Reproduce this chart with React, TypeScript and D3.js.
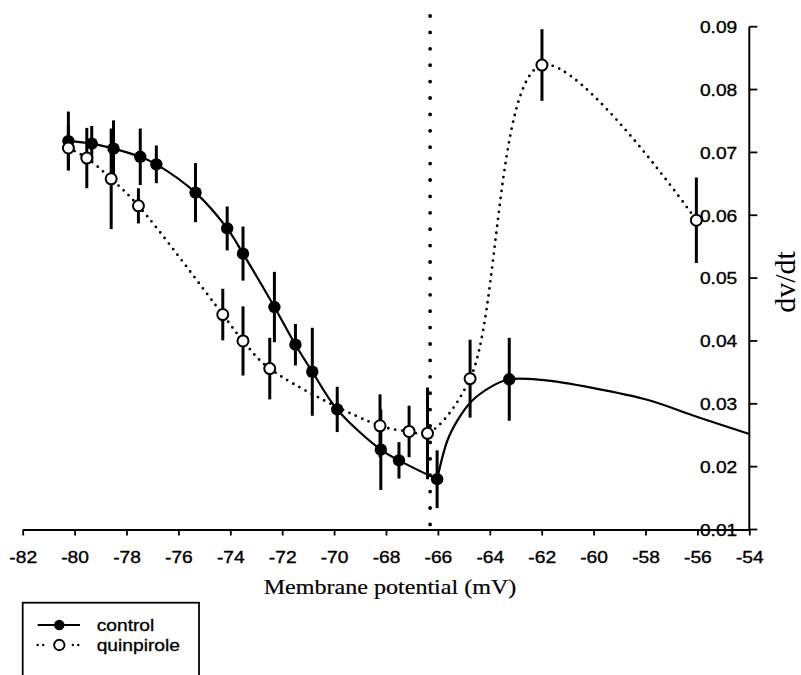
import React, { Component } from 'react';
import * as d3 from 'd3';

// axis ticks
const xTicks = [-82, -80, -78, -76, -74, -72, -70, -68, -66, -64, -62, -60, -58, -56, -54];
const yTicks = [0.01, 0.02, 0.03, 0.04, 0.05, 0.06, 0.07, 0.08, 0.09];

// control (filled circles), mean +/- error
const controlX = [-80.24, -79.34, -78.5, -77.47, -76.85, -75.34, -74.12, -73.51, -72.3, -71.49, -70.84, -69.88, -68.2, -67.5, -66.03, -63.25];
const controlY = [0.0718, 0.0714, 0.0706, 0.0693, 0.0681, 0.0636, 0.0579, 0.0539, 0.0454, 0.0394, 0.0351, 0.0291, 0.0227, 0.021, 0.018, 0.0339];
const controlErr = [0.0047, 0.0028, 0.0045, 0.0045, 0.003, 0.0047, 0.0035, 0.0043, 0.0056, 0.0033, 0.007, 0.0036, 0.0064, 0.0029, 0.0046, 0.0066];

// fitted control curve from the minimum onwards
const controlFitX = [-66.03, -65.63, -65.24, -64.73, -63.96, -63.25, -62.0, -60.0, -57.9, -56.0, -54.0];
const controlFitY = [0.018, 0.0242, 0.0274, 0.0303, 0.0327, 0.0339, 0.0338, 0.0325, 0.0306, 0.0279, 0.0252];

// quinpirole (open circles)
const quinX = [-80.24, -79.53, -78.59, -77.54, -74.29, -73.51, -72.48, -68.23, -67.11, -66.4, -64.76, -61.99, -56.04];
const quinY = [0.0707, 0.0691, 0.0658, 0.0615, 0.0442, 0.04, 0.0356, 0.0265, 0.0256, 0.0253, 0.034, 0.0839, 0.0592];
const quinErr = [0.0035, 0.0048, 0.008, 0.0028, 0.0041, 0.0055, 0.0049, 0.005, 0.0041, 0.0073, 0.0062, 0.0057, 0.0068];

// dotted vertical marker
const markerX = -66.3;
const markerRange = [0.0107, 0.0917];

const seriesNames = ['control', 'quinpirole'];

const SANS = '"Liberation Sans", Arial, Helvetica, sans-serif';
const SERIF = '"Liberation Serif", "Times New Roman", serif';

type Pt = { x: number; y: number; e?: number };

class DvdtChart extends Component {
  svgRef = React.createRef<SVGSVGElement>();

  componentDidMount() {
    this.draw();
  }

  draw = () => {
    const svg = d3.select(this.svgRef.current);
    svg.selectAll('*').remove();

    const x = d3.scaleLinear().domain([-82, -54]).range([22.7, 749.3]);
    const y = d3.scaleLinear().domain([0.01, 0.09]).range([529.5, 26.7]);

    const control: Pt[] = controlX.map((v, i) => ({ x: v, y: controlY[i], e: controlErr[i] }));
    const quin: Pt[] = quinX.map((v, i) => ({ x: v, y: quinY[i], e: quinErr[i] }));
    const fit: Pt[] = controlFitX.map((v, i) => ({ x: v, y: controlFitY[i] }));

    // x axis
    const xAxis = svg.append('g')
      .attr('transform', `translate(0, ${y(0.01)})`)
      .call(d3.axisBottom(x).tickValues(xTicks).tickSize(6).tickSizeOuter(0).tickPadding(16).tickFormat((d) => String(d)));
    xAxis.select('.domain').attr('stroke-width', 2);
    xAxis.selectAll('.tick line').attr('stroke-width', 1.8);
    xAxis.selectAll('.tick text')
      .attr('font-family', SANS)
      .attr('font-size', 16)
      .attr('fill', '#000')
      .attr('stroke', '#000')
      .attr('stroke-width', 0.35)
      .attr('transform', 'scale(1.2,1)');

    // y axis on the right, labels inside
    const ax = x(-54);
    const yAxis = svg.append('g');
    yAxis.append('line')
      .attr('x1', ax).attr('x2', ax)
      .attr('y1', y(0.09)).attr('y2', y(0.01))
      .attr('stroke', '#000').attr('stroke-width', 2);
    yAxis.selectAll('line.tick').data(yTicks).enter().append('line')
      .attr('class', 'tick')
      .attr('x1', ax).attr('x2', ax + 8)
      .attr('y1', (d) => y(d)).attr('y2', (d) => y(d))
      .attr('stroke', '#000').attr('stroke-width', 1.8);
    yAxis.selectAll('text').data(yTicks).enter().append('text')
      .attr('transform', (d) => `translate(${ax - 12}, ${y(d) + 6.3}) scale(1.2,1)`)
      .attr('text-anchor', 'end')
      .attr('font-family', SANS)
      .attr('font-size', 16)
      .attr('stroke', '#000')
      .attr('stroke-width', 0.35)
      .text((d) => d.toFixed(2));

    // titles
    svg.append('text')
      .attr('transform', `translate(390, 594) scale(1.12,1)`)
      .attr('text-anchor', 'middle')
      .attr('font-family', SERIF)
      .attr('font-size', 21.5)
      .attr('stroke', '#000')
      .attr('stroke-width', 0.2)
      .text('Membrane potential (mV)');
    svg.append('text')
      .attr('transform', `translate(795, 282) rotate(-90)`)
      .attr('text-anchor', 'middle')
      .attr('font-family', SERIF)
      .attr('font-size', 30)
      .text('dv/dt');

    // dotted vertical line
    svg.append('line')
      .attr('x1', x(markerX)).attr('x2', x(markerX))
      .attr('y1', y(markerRange[1])).attr('y2', y(markerRange[0]))
      .attr('stroke', '#000').attr('stroke-width', 3.8)
      .attr('stroke-linecap', 'round')
      .attr('stroke-dasharray', '0 16.4');

    // curves
    const line = d3.line<Pt>().x((d) => x(d.x)).y((d) => y(d.y)).curve(d3.curveCatmullRom.alpha(0.5));
    svg.append('path')
      .datum(control.slice(0, 15))
      .attr('d', line)
      .attr('fill', 'none').attr('stroke', '#000').attr('stroke-width', 2.2);
    svg.append('path')
      .datum(fit)
      .attr('d', line)
      .attr('fill', 'none').attr('stroke', '#000').attr('stroke-width', 2.2);
    svg.append('path')
      .datum(quin)
      .attr('d', line)
      .attr('fill', 'none').attr('stroke', '#000').attr('stroke-width', 2.8)
      .attr('stroke-linecap', 'round')
      .attr('stroke-dasharray', '0 7');

    // error bars
    svg.selectAll('line.err').data(control.concat(quin)).enter().append('line')
      .attr('class', 'err')
      .attr('x1', (d) => x(d.x)).attr('x2', (d) => x(d.x))
      .attr('y1', (d) => y(d.y + (d.e || 0))).attr('y2', (d) => y(d.y - (d.e || 0)))
      .attr('stroke', '#000').attr('stroke-width', 3);

    // markers
    svg.selectAll('circle.ctl').data(control).enter().append('circle')
      .attr('class', 'ctl')
      .attr('cx', (d) => x(d.x)).attr('cy', (d) => y(d.y)).attr('r', 6.2)
      .attr('fill', '#000');
    svg.selectAll('circle.qn').data(quin).enter().append('circle')
      .attr('class', 'qn')
      .attr('cx', (d) => x(d.x)).attr('cy', (d) => y(d.y)).attr('r', 5.5)
      .attr('fill', '#fff').attr('stroke', '#000').attr('stroke-width', 2);

    // legend
    const lg = svg.append('g');
    lg.append('rect')
      .attr('x', 22.7).attr('y', 602.7).attr('width', 176.3).attr('height', 120)
      .attr('fill', 'none').attr('stroke', '#000').attr('stroke-width', 1.8);
    const rows = [625, 645];
    lg.append('line').attr('x1', 37.7).attr('x2', 80).attr('y1', rows[0]).attr('y2', rows[0])
      .attr('stroke', '#000').attr('stroke-width', 2.2);
    lg.append('circle').attr('cx', 59.3).attr('cy', rows[0]).attr('r', 5.2).attr('fill', '#000');
    [[37.7, 43.2], [72.8, 78.3]].forEach(([a, b]) => {
      lg.append('line').attr('x1', a).attr('x2', b + 0.5).attr('y1', rows[1]).attr('y2', rows[1])
        .attr('stroke', '#000').attr('stroke-width', 2.4).attr('stroke-linecap', 'round')
        .attr('stroke-dasharray', `0 ${b - a}`);
    });
    lg.append('circle').attr('cx', 59.3).attr('cy', rows[1]).attr('r', 5.2)
      .attr('fill', '#fff').attr('stroke', '#000').attr('stroke-width', 1.9);
    lg.selectAll('text').data(seriesNames).enter().append('text')
      .attr('transform', (d, i) => `translate(96.7, ${rows[i] + 5.5}) scale(1.2,1)`)
      .attr('font-family', SANS)
      .attr('font-size', 16)
      .attr('stroke', '#000')
      .attr('stroke-width', 0.3)
      .text((d) => d);
  };

  render() {
    return (
      <svg
        ref={this.svgRef}
        width={801}
        height={675}
        style={{ position: 'absolute', left: 0, top: 0, background: '#fff' }}
      />
    );
  }
}

export default function App() {
  return <DvdtChart />;
}
